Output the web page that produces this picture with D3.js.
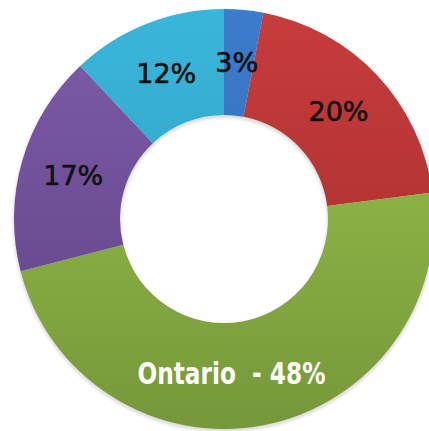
<html><head>
<script src="https://d3js.org/d3.v7.min.js"></script>
<style>
  body { margin: 0; background: white; }
</style>
</head>
<body>
<svg id="donut" width="429" height="431"></svg>
<script>
  // slices, clockwise from 12 o'clock
  const names = ["Other A", "Other B", "Ontario", "Other C", "Other D"];
  const values = [3, 20, 48, 17, 12];
  const labels = ["3%", "20%", "Ontario  - 48%", "17%", "12%"];
  const topColors = ["#3c7ccc", "#c83c3c", "#9cc64c", "#7e5caa", "#3ab6da"];
  const bottomColors = ["#3366aa", "#9e2c2c", "#76973a", "#5e4282", "#2c98b8"];

  const svg = d3.select("svg#donut");
  const cx = 224, cy = 219;
  const outerR = 210, innerR = 104;

  const defs = svg.append("defs");
  names.forEach((n, i) => {
    const g = defs.append("linearGradient")
      .attr("id", "grad" + i)
      .attr("gradientUnits", "userSpaceOnUse")
      .attr("x1", 0).attr("y1", -outerR)
      .attr("x2", 0).attr("y2", outerR);
    g.append("stop").attr("offset", "0%").attr("stop-color", topColors[i]);
    g.append("stop").attr("offset", "100%").attr("stop-color", bottomColors[i]);
  });

  const blur = defs.append("filter").attr("id", "shadow")
    .attr("x", "-10%").attr("y", "-10%").attr("width", "120%").attr("height", "120%");
  blur.append("feGaussianBlur").attr("stdDeviation", 1.5);

  const pie = d3.pie().value(d => d).sort(null);
  const arc = d3.arc().innerRadius(innerR).outerRadius(outerR);
  const arcs = pie(values);

  const chart = svg.append("g").attr("transform", `translate(${cx},${cy})`);

  // soft edge
  chart.append("path")
    .attr("d", d3.arc().innerRadius(innerR - 1).outerRadius(outerR + 1)({startAngle: 0, endAngle: 2 * Math.PI}))
    .attr("fill", "#dcdcdc")
    .attr("filter", "url(#shadow)")
    .attr("transform", "translate(0,2)");

  chart.selectAll("path.slice").data(arcs)
    .join("path")
    .attr("class", "slice")
    .attr("d", arc)
    .attr("fill", (d, i) => `url(#grad${i})`);

  chart.selectAll("text.lbl").data(arcs)
    .join("text")
    .attr("class", "lbl")
    .attr("transform", d => `translate(${arc.centroid(d)})`)
    .attr("dx", (d, i) => i == 2 ? -22 : (i == 0 ? -2 : 0))
    .attr("dy", "0.36em")
    .attr("text-anchor", "middle")
    .style("white-space", "pre")
    .style("font-family", (d, i) => i == 2 ? "'DejaVu Sans Condensed', 'DejaVu Sans'" : "'DejaVu Sans'")
    .style("font-weight", (d, i) => i == 2 ? "bold" : "normal")
    .style("font-size", (d, i) => i == 2 ? "31px" : "27px")
    .attr("textLength", (d, i) => i == 2 ? 188 : null)
    .attr("lengthAdjust", "spacingAndGlyphs")
    .attr("fill", (d, i) => i == 2 ? "white" : "#111")
    .attr("stroke", (d, i) => i == 2 ? "none" : "#111")
    .attr("stroke-width", 0.6)
    .text((d, i) => labels[i]);
</script>
</body>
</html>
